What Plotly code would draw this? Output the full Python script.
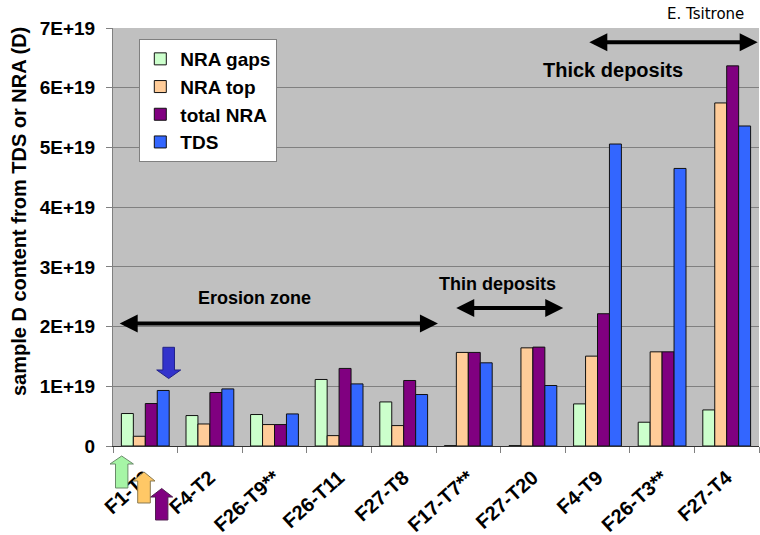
import plotly.graph_objects as go

categories = ["F1-T3", "F4-T2", "F26-T9**", "F26-T11", "F27-T8",
              "F17-T7**", "F27-T20", "F4-T9", "F26-T3**", "F27-T4"]
nra_gaps = [0.544e19, 0.51e19, 0.527e19, 1.114e19, 0.738e19,
            0.006e19, 0.006e19, 0.705e19, 0.398e19, 0.604e19]
nra_top = [0.163e19, 0.369e19, 0.359e19, 0.174e19, 0.342e19,
           1.567e19, 1.644e19, 1.505e19, 1.577e19, 5.745e19]
total_nra = [0.711e19, 0.896e19, 0.359e19, 1.299e19, 1.097e19,
             1.567e19, 1.656e19, 2.215e19, 1.577e19, 6.366e19]
tds = [0.93e19, 0.956e19, 0.537e19, 1.04e19, 0.862e19,
       1.393e19, 1.013e19, 5.057e19, 4.648e19, 5.359e19]
y_tickvals = [0, 1e19, 2e19, 3e19, 4e19, 5e19, 6e19, 7e19]
y_ticktext = ["0", "1E+19", "2E+19", "3E+19", "4E+19", "5E+19", "6E+19", "7E+19"]

series = [
    ("NRA gaps", nra_gaps, "#CCFFCC"),
    ("NRA top", nra_top, "#FFCC99"),
    ("total NRA", total_nra, "#800080"),
    ("TDS", tds, "#3366FF"),
]

W, H = 760, 535
L, R, T, B = 113, 1, 28, 89
PW, PH = W - L - R, H - T - B

def px(x):
    return (x - L) / PW

def py(y):
    return (H - B - y) / PH

FONT = "Liberation Sans, Arial, sans-serif"

fig = go.Figure()
for name, vals, col in series:
    fig.add_trace(go.Bar(name=name, x=categories, y=vals,
                         marker=dict(color=col, line=dict(color="#111111", width=1))))

def up_arrow(cx, ty, hy, hw, sw, by, fill, line):
    pts = [(cx - sw, by), (cx - sw, hy), (cx - hw, hy), (cx, ty),
           (cx + hw, hy), (cx + sw, hy), (cx + sw, by)]
    path = "M " + " L ".join(f"{px(a):.5f},{py(b):.5f}" for a, b in pts) + " Z"
    return dict(type="path", xref="paper", yref="paper", path=path,
                fillcolor=fill, line=dict(color=line, width=1), layer="above")

shapes = [
    up_arrow(121.7, 456, 464, 11.7, 6.2, 488, "#A6F5A6", "#6a8a6a"),
    up_arrow(144.0, 472, 481, 11.0, 6.3, 503, "#FFC866", "#8a7a50"),
    up_arrow(161.7, 488.5, 497, 11.0, 6.2, 520, "#800080", "#502050"),
    up_arrow(168.7, 378.5, 370, 12.0, 5.8, 347.3, "#3333CC", "#222288"),
]

annotations = []
# double arrows (in data coordinates)
for (x0, x1, yv) in [(-0.42, 4.53, 2.05e19), (4.79, 6.47, 2.31e19), (6.85, 9.48, 6.76e19)]:
    annotations.append(dict(x=x1, y=yv, ax=x0, ay=yv, xref="x", yref="y", axref="x", ayref="y",
                            showarrow=True, arrowhead=2, arrowsize=0.9, arrowwidth=4,
                            arrowcolor="black", arrowside="end+start", text=""))

def label(text, x, y, size, bold=True, family=FONT):
    return dict(text=text, x=px(x), y=py(y), xref="paper", yref="paper", showarrow=False,
                xanchor="center", yanchor="middle",
                font=dict(family=family, size=size, color="black", weight="bold" if bold else "normal"))

annotations += [
    label("Erosion zone", 254, 298, 18),
    label("Thin deposits", 497.5, 284, 18),
    label("Thick deposits", 613, 70, 20),
    label("E. Tsitrone", 705.5, 14, 15, bold=False, family="DejaVu Sans, Verdana, sans-serif"),
    dict(text="sample D content from TDS or NRA (D)", x=px(19), y=py(212), xref="paper", yref="paper",
         showarrow=False, textangle=-90, xanchor="center", yanchor="middle",
         font=dict(family=FONT, size=20, color="black", weight="bold")),
]

fig.update_layout(
    width=W, height=H,
    margin=dict(l=L, r=R, t=T, b=B, autoexpand=False),
    paper_bgcolor="white", plot_bgcolor="#C0C0C0",
    barmode="group", bargap=0.26, bargroupgap=0,
    showlegend=True,
    legend=dict(x=px(139.3), y=py(39), xanchor="left", yanchor="top",
                bgcolor="white", bordercolor="#808080", borderwidth=1,
                font=dict(family=FONT, size=19, color="black", weight="bold"),
                itemwidth=30, traceorder="normal"),
    xaxis=dict(type="category", tickson="boundaries", ticks="outside", ticklen=6,
               tickcolor="#808080", tickangle=-42, showgrid=False,
               showline=True, linecolor="#333333", linewidth=1,
               tickfont=dict(family=FONT, size=20, color="black", weight="bold"),
               ticklabelstandoff=11, automargin=False, range=[-0.5, 9.5]),
    yaxis=dict(range=[0, 7e19], tickvals=y_tickvals, ticktext=y_ticktext,
               ticks="outside", ticklen=6, tickcolor="#808080",
               showgrid=True, gridcolor="#808080", gridwidth=1,
               showline=True, linecolor="#808080", linewidth=1, zeroline=False,
               tickfont=dict(family=FONT, size=19, color="black", weight="bold"),
               ticklabelstandoff=7, automargin=False),
    shapes=shapes,
    annotations=annotations,
)

fig.write_html("out.html", config={"displayModeBar": False},
               post_script="document.body.style.margin='0';document.body.style.overflow='hidden';")
